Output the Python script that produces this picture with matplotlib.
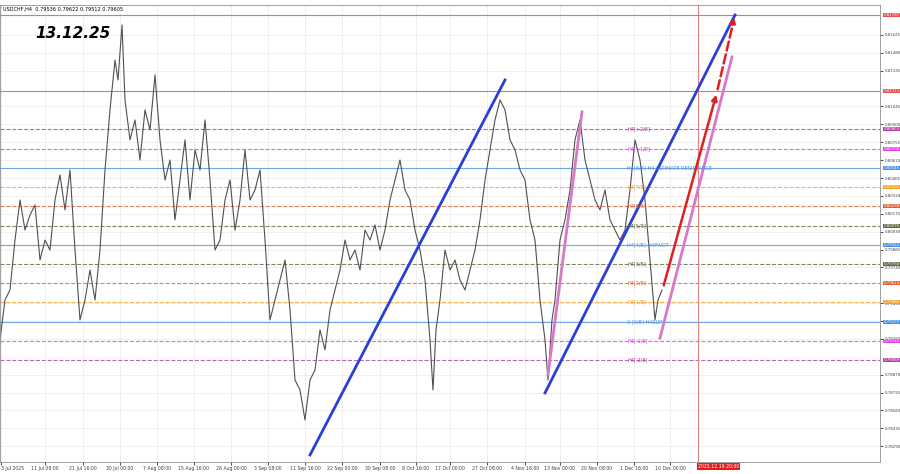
import matplotlib
matplotlib.use("Agg")
import matplotlib.pyplot as plt

# price path (time index, price)
px = [0,5,10,15,20,25,30,35,40,45,50,55,60,65,70,75,80,85,90,95,100,105,110,115,118,122,125,130,135,140,145,150,155,160,165,170,175,180,185,190,195,200,205,210,215,220,225,230,235,240,245,250,255,260,265,270,275,280,285,290,295,300,305,310,315,320,325,330,335,340,345,350,355,360,365,370,375,380,385,390,395,400,405,410,415,420,425,430,433,436,440,445,450,455,460,465,470,475,480,485,490,495,500,505,510,515,520,525,530,535,540,545,548,552,555,560,565,570,575,580,585,590,595,600,605,610,615,620,625,630,635,640,645,650,655,658,662]
py = [0.79152,0.79476,0.79557,0.79962,0.80287,0.80043,0.80165,0.80246,0.79800,0.79962,0.79881,0.80287,0.80490,0.80206,0.80530,0.79881,0.79314,0.79476,0.79719,0.79476,0.79881,0.80530,0.81017,0.81422,0.81260,0.81706,0.81098,0.80774,0.80936,0.80611,0.81017,0.80855,0.81301,0.80774,0.80449,0.80611,0.80125,0.80449,0.80774,0.80287,0.80693,0.80530,0.80936,0.80449,0.79881,0.79962,0.80287,0.80449,0.80043,0.80287,0.80693,0.80287,0.80368,0.80530,0.79962,0.79314,0.79476,0.79638,0.79800,0.79395,0.78827,0.78746,0.78503,0.78827,0.78908,0.79233,0.79071,0.79395,0.79557,0.79719,0.79962,0.79800,0.79881,0.79719,0.80043,0.79962,0.80084,0.79881,0.80043,0.80287,0.80449,0.80611,0.80368,0.80287,0.80043,0.79881,0.79638,0.79152,0.78746,0.79233,0.79476,0.79881,0.79719,0.79800,0.79638,0.79557,0.79719,0.79881,0.80125,0.80449,0.80693,0.80936,0.81098,0.81017,0.80774,0.80693,0.80530,0.80449,0.80125,0.79962,0.79476,0.79152,0.78827,0.79314,0.79476,0.79962,0.80125,0.80368,0.80774,0.80936,0.80611,0.80449,0.80287,0.80206,0.80368,0.80125,0.80043,0.79962,0.80043,0.80368,0.80774,0.80611,0.80287,0.79800,0.79314,0.79476,0.79557]

# Murrey levels (price, color, style, label)
lv_price = [0.81787,0.81171,0.80863,0.80700,0.80546,0.80392,0.80238,0.80076,0.79922,0.79768,0.79614,0.79460,0.79297,0.79143,0.78989]
lv_color = ['#e05050','#e05050','#b040a0','#e040e0','#4a90e0','#f0a020','#e06030','#606840','#4a90e0','#606840','#e06030','#f0a020','#4a90e0','#e040e0','#b040a0']
lv_style = ['-','-','--','--','-','--','--','--','-','--','--','--','-','--','--']
lv_text = ['','','H4[+2/8]','H4[+1/8]','H4[8/8] H4 ULTIMATE RESISTANCE','H4[7/8]','H4[6/8]','H4[5/8]','H4[4/8] H4PIVOT','H4[3/8]','H4[2/8]','H4[1/8]','0 [0/8] H4SUP','H4[-1/8]','H4[-2/8]']

xtick_pos = [1,45,83,120,157,194,231,268,305,342,380,416,450,487,525,560,597,634,670]
xtick_lab = ['3 Jul 2025','11 Jul 08:00','21 Jul 16:00','30 Jul 00:00','7 Aug 08:00','15 Aug 16:00','26 Aug 00:00','3 Sep 08:00','11 Sep 16:00','22 Sep 00:00','30 Sep 08:00','8 Oct 16:00','17 Oct 00:00','27 Oct 08:00','4 Nov 16:00','13 Nov 00:00','20 Nov 08:00','1 Dec 16:00','10 Dec 00:00']
ytick = [0.81625,0.81480,0.81335,0.81045,0.80900,0.80755,0.80610,0.80465,0.80320,0.80175,0.80030,0.79885,0.79740,0.79450,0.79305,0.79160,0.78870,0.78725,0.78580,0.78435,0.78290]

blue1 = ([310,505],[0.78219,0.81260])
blue2 = ([545,735],[0.78722,0.81787])
pink1 = ([548,582],[0.78868,0.81001])
pink2 = ([660,732],[0.79168,0.81447])
red_arrow = ([663,717],[0.79573,0.81163])
red_dash = ([717,735],[0.81163,0.81787])

fig = plt.figure(figsize=(9,4.74), dpi=100)
ax = fig.add_axes([0, 12/474, 880/900, 457/474])
ax.set_xlim(0, 880)
ax.set_ylim(0.78162, 0.81868)

for x in xtick_pos:
    ax.axvline(x, color='#ececec', lw=0.6, zorder=0)
for y in ytick:
    ax.axhline(y, color='#ececec', lw=0.6, zorder=0)

for p, c, s, t in zip(lv_price, lv_color, lv_style, lv_text):
    ax.axhline(p, color=c, ls=s, lw=0.8, alpha=0.8, zorder=1)
    if t:
        ax.text(627, p, t, color=c, fontsize=3.6, va='center', zorder=3)
    ax.text(1.004, p, f'{p:.5f}', transform=ax.get_yaxis_transform(), fontsize=2.8, color='white',
            va='center', ha='left', bbox=dict(boxstyle='square,pad=0.1', fc=c, ec='none'), clip_on=False)

ax.axvline(698, color='#e08080', lw=0.8, zorder=1)

ax.plot(px, py, color='#505050', lw=0.8, zorder=2)
ax.plot(*blue1, color='#2a3fd8', lw=2)
ax.plot(*blue2, color='#2a3fd8', lw=2)
ax.plot(*pink1, color='#d878c8', lw=2)
ax.plot(*pink2, color='#d878c8', lw=2)
ax.annotate('', xy=(red_arrow[0][1], red_arrow[1][1]), xytext=(red_arrow[0][0], red_arrow[1][0]),
            arrowprops=dict(arrowstyle='-|>', color='#e02020', lw=1.8, mutation_scale=8))
ax.annotate('', xy=(red_dash[0][1], red_dash[1][1]), xytext=(red_dash[0][0], red_dash[1][0]),
            arrowprops=dict(arrowstyle='-|>', color='#e02020', lw=1.8, ls='--', mutation_scale=8))

ax.text(35, 0.81600, '13.12.25', fontsize=11, fontweight='bold', fontstyle='italic')
ax.text(3, 0.81830, 'USDCHF,H4  0.79536 0.79622 0.79512 0.79605', fontsize=3.6, va='center')

ax.yaxis.tick_right()
ax.set_yticks(ytick)
ax.set_yticklabels([f'{v:.5f}' for v in ytick], fontsize=2.8, color='#404040')
ax.set_xticks(xtick_pos)
ax.set_xticklabels(xtick_lab, fontsize=3.3, color='#404040')
ax.get_xticklabels()[0].set_horizontalalignment('left')
ax.tick_params(length=2, width=0.5, pad=1.2)
ax.text(698, -0.004, '2025.12.19 20:00', transform=ax.get_xaxis_transform(), fontsize=3.3, color='white',
        ha='left', va='top', bbox=dict(boxstyle='square,pad=0.15', fc='#e02020', ec='none'), clip_on=False)
for s in ax.spines.values():
    s.set_color('#909090'); s.set_linewidth(0.6)

fig.savefig('out.png', dpi=100)
